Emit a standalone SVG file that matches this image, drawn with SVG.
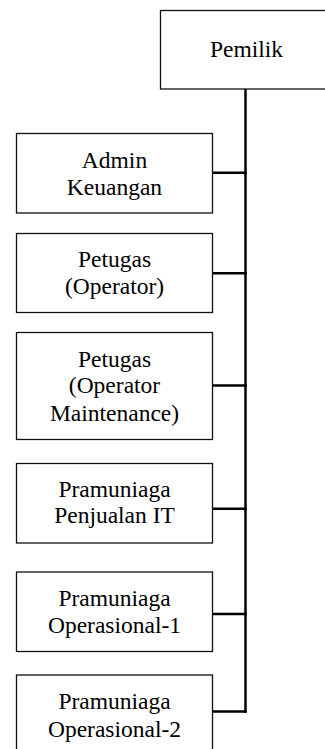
<svg xmlns="http://www.w3.org/2000/svg" width="325" height="749" viewBox="0 0 325 749">
<style>
.box{fill:#fff;stroke:#111;stroke-width:1.3}
.t{font-family:'Liberation Serif','Times New Roman','DejaVu Serif',serif;font-size:23.5px;fill:#000;text-anchor:middle}
.c{stroke:#000;stroke-width:2.5;fill:none}
</style>
<rect width="325" height="749" fill="#fff"/>
<g id="connectors">
<line class="c" x1="245.5" y1="89" x2="245.5" y2="712.8"/>
<line class="c" x1="212" y1="172.8" x2="246.7" y2="172.8"/>
<line class="c" x1="212" y1="273.3" x2="246.7" y2="273.3"/>
<line class="c" x1="212" y1="385.5" x2="246.7" y2="385.5"/>
<line class="c" x1="212" y1="508.7" x2="246.7" y2="508.7"/>
<line class="c" x1="212" y1="614" x2="246.7" y2="614"/>
<line class="c" x1="212" y1="711.6" x2="246.7" y2="711.6"/>
</g>
<g id="pemilik">
<rect class="box" x="160.5" y="10.5" width="171" height="78.5"/>
<text class="t" font-family="Liberation Serif, serif" x="246.5" y="57.3">Pemilik</text>
</g>
<g id="admin">
<rect class="box" x="16.5" y="133.5" width="196" height="79.5"/>
<text class="t" x="114.5" y="167.7">Admin</text>
<text class="t" x="114.5" y="195">Keuangan</text>
</g>
<g id="petugas-operator">
<rect class="box" x="16.5" y="233.5" width="196" height="79"/>
<text class="t" x="114.5" y="266.7">Petugas</text>
<text class="t" x="114.5" y="294.3">(Operator)</text>
</g>
<g id="petugas-maintenance">
<rect class="box" x="16.5" y="332.5" width="196" height="107"/>
<text class="t" x="114.5" y="366.7">Petugas</text>
<text class="t" x="114.5" y="393.3">(Operator</text>
<text class="t" x="114.5" y="421">Maintenance)</text>
</g>
<g id="pramuniaga-it">
<rect class="box" x="16.5" y="463.5" width="196" height="79.5"/>
<text class="t" x="114.5" y="496.7">Pramuniaga</text>
<text class="t" x="114.5" y="523.3">Penjualan IT</text>
</g>
<g id="pramuniaga-op1">
<rect class="box" x="16.5" y="572" width="196" height="79.5"/>
<text class="t" x="114.5" y="606">Pramuniaga</text>
<text class="t" x="114.5" y="633.3">Operasional-1</text>
</g>
<g id="pramuniaga-op2">
<rect class="box" x="16.5" y="675" width="196" height="80"/>
<text class="t" x="114.5" y="709">Pramuniaga</text>
<text class="t" x="114.5" y="736.7">Operasional-2</text>
</g>
</svg>
